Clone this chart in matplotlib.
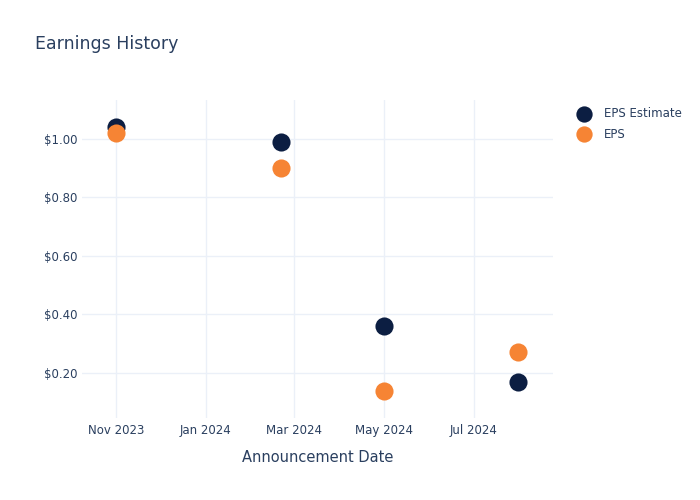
import matplotlib.pyplot as plt
import matplotlib.dates as mdates
import pandas as pd

dates = pd.to_datetime(["2023-11-01", "2024-02-21", "2024-05-01", "2024-07-31"])
eps_estimate = [1.04, 0.99, 0.36, 0.17]
eps_actual = [1.02, 0.90, 0.14, 0.27]

TEXT = "#2a3f5f"
GRID = "#ebf0f8"

fig = plt.figure(figsize=(7, 5), dpi=100)
ax = fig.add_axes([0.117, 0.164, 0.673, 0.636])

ax.scatter(dates, eps_estimate, s=170, color="#0c1e42", label="EPS Estimate", zorder=3, linewidths=0)
ax.scatter(dates, eps_actual, s=170, color="#f68434", label="EPS", zorder=4, linewidths=0)

ax.set_xlim(pd.Timestamp("2023-10-09"), pd.Timestamp("2024-08-24"))
ax.set_ylim(0.046, 1.133)
ax.set_yticks([0.2, 0.4, 0.6, 0.8, 1.0])
ax.set_yticklabels([f"${v:.2f}" for v in [0.2, 0.4, 0.6, 0.8, 1.0]])
ax.xaxis.set_major_locator(mdates.MonthLocator(bymonth=[1, 3, 5, 7, 11]))
ax.xaxis.set_major_formatter(mdates.DateFormatter("%b %Y"))

ax.grid(True, color=GRID, linewidth=1)
ax.set_axisbelow(True)
for s in ax.spines.values():
    s.set_visible(False)
ax.tick_params(length=0, labelsize=8.5, colors=TEXT)
ax.tick_params(axis="x", pad=4)
ax.tick_params(axis="y", pad=3)

ax.set_xlabel("Announcement Date", fontsize=10.5, color=TEXT, labelpad=10)
fig.text(0.05, 0.912, "Earnings History", fontsize=12.5, color=TEXT, va="center")

leg = ax.legend(loc="upper left", bbox_to_anchor=(1.018, 1.01), frameon=False,
                fontsize=8.5, handletextpad=0.7, labelspacing=0.6, markerscale=0.9)
for t in leg.get_texts():
    t.set_color(TEXT)

plt.savefig("out.png")
plt.close()
